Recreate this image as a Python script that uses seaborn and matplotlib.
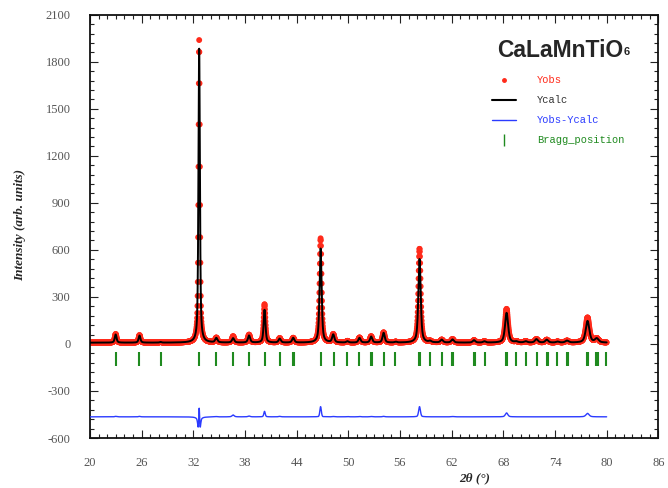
import numpy as np
import pandas as pd
import matplotlib
matplotlib.use("Agg")
import matplotlib.pyplot as plt
from matplotlib.lines import Line2D
from matplotlib.ticker import MultipleLocator
import seaborn as sns

# ---------------- data ----------------
two_theta_range = [20.0, 80.0]
step = 0.02
background = 8.0
diff_offset = -465.0

peak_pos = [22.98, 25.75, 28.20, 32.68, 34.67, 36.62, 38.47, 40.27, 42.03,
            43.60, 46.78, 48.25, 49.90, 51.30, 52.65, 54.10, 55.50, 58.27,
            59.50, 60.85, 62.10, 64.60, 65.80, 68.38, 69.50, 70.60, 71.85,
            73.05, 74.30, 75.40, 77.78, 78.85]
peak_calc = [52, 45, 4, 1875, 28, 28, 45, 210, 25,
             30, 600, 50, 8, 30, 38, 62, 5, 535,
             8, 18, 20, 15, 8, 190, 6, 8, 22,
             18, 6, 12, 138, 25]
peak_obs = [55, 48, 4, 1930, 30, 40, 50, 245, 28,
            30, 665, 52, 10, 32, 40, 65, 5, 600,
            8, 18, 22, 15, 8, 215, 6, 8, 22,
            18, 6, 12, 160, 25]
fwhm_calc = [0.25, 0.25, 0.25, 0.20, 0.30, 0.30, 0.30, 0.25, 0.30,
             0.30, 0.28, 0.30, 0.30, 0.30, 0.30, 0.30, 0.30, 0.32,
             0.35, 0.35, 0.35, 0.35, 0.35, 0.42, 0.40, 0.40, 0.40,
             0.40, 0.40, 0.45, 0.50, 0.50]
fwhm_obs = [0.25, 0.25, 0.25, 0.185, 0.30, 0.30, 0.30, 0.24, 0.30,
            0.30, 0.27, 0.30, 0.30, 0.30, 0.30, 0.30, 0.30, 0.31,
            0.35, 0.35, 0.35, 0.35, 0.35, 0.41, 0.40, 0.40, 0.40,
            0.40, 0.40, 0.45, 0.49, 0.50]

bragg_pos = [22.98, 25.73, 28.21, 32.69, 34.67, 36.64, 38.47, 40.29, 42.03,
             43.55, 43.68, 46.83, 48.30, 49.88, 51.28, 52.65, 52.78, 54.17,
             55.46, 58.20, 58.32, 59.52, 60.86, 62.02, 62.14, 64.60, 64.72,
             65.82, 68.26, 68.38, 69.48, 70.64, 71.88, 73.03, 73.15, 74.27,
             75.36, 75.48, 77.68, 77.80, 78.82, 78.94, 79.87]
bragg_top, bragg_bottom = -50, -140

y_ticks = [-600, -300, 0, 300, 600, 900, 1200, 1500, 1800, 2100]
x_ticks = [20, 26, 32, 38, 44, 50, 56, 62, 68, 74, 80, 86]


def profile(x, pos, height, fwhm, eta=0.6):
    y = np.full_like(x, background)
    for p, h, w in zip(pos, height, fwhm):
        d = (x - p) / (w / 2.0)
        lor = 1.0 / (1.0 + d ** 2)
        gau = np.exp(-np.log(2) * d ** 2)
        y += h * (eta * lor + (1 - eta) * gau)
    return y


x = np.arange(two_theta_range[0], two_theta_range[1] + step / 2, step)
ycalc = profile(x, peak_pos, peak_calc, fwhm_calc)
yobs = profile(x, peak_pos, peak_obs, fwhm_obs)
df = pd.DataFrame({"2theta": x, "Yobs": yobs, "Ycalc": ycalc,
                   "Diff": yobs - ycalc + diff_offset})

# ---------------- plotting ----------------
sns.set_theme(style="ticks")
plt.rcParams["font.family"] = ["DejaVu Sans"]
plt.rcParams["axes.unicode_minus"] = False

fig = plt.figure(figsize=(6.68, 4.88), dpi=100)
ax = fig.add_axes([90 / 668, 1 - 438 / 488, 568.3 / 668, 423.3 / 488])

red = "#ff2a1a"
blue = "#2b3bff"
green = "#1f8a1f"

sns.scatterplot(data=df, x="2theta", y="Yobs", ax=ax, color=red, s=18,
                linewidth=0, edgecolor="none", zorder=2, legend=False)
sns.lineplot(data=df, x="2theta", y="Ycalc", ax=ax, color="black", lw=1.4,
             zorder=3, legend=False)
sns.lineplot(data=df, x="2theta", y="Diff", ax=ax, color=blue, lw=1.0,
             zorder=3, legend=False)
ax.vlines(bragg_pos, bragg_bottom, bragg_top, colors=green, lw=1.5, zorder=3)

ax.set_xlim(20, 86)
ax.set_ylim(-600, 2100)
ax.set_xticks(x_ticks)
ax.set_yticks(y_ticks)
ax.xaxis.set_minor_locator(MultipleLocator(1))
ax.yaxis.set_minor_locator(MultipleLocator(60))
ax.tick_params(which="both", direction="in", top=True, right=True,
               color="#222222", width=0.8)
ax.tick_params(which="major", length=6, pad=14, labelsize=9,
               labelcolor="#555555")
ax.tick_params(which="minor", length=3)
for lab in ax.get_xticklabels() + ax.get_yticklabels():
    lab.set_fontfamily("Liberation Serif")
for s in ax.spines.values():
    s.set_linewidth(1.3)
    s.set_color("#111111")

ax.set_xlabel("")
ax.set_ylabel("")
fig.text(20 / 668, 1 - 225 / 488, "Intensity (arb. units)", rotation=90,
         ha="center", va="center", fontfamily="Liberation Serif",
         fontweight="bold", fontstyle="italic", fontsize=9.5)
fig.text(475 / 668, 1 - 478 / 488, "2θ (°)", ha="center", va="center",
         fontfamily="Liberation Serif", fontweight="bold",
         fontstyle="italic", fontsize=9.5)

title = ax.text(0.716, 0.901, "CaLaMnTiO", transform=ax.transAxes,
                ha="left", va="baseline", fontfamily="Liberation Sans",
                fontweight="bold", fontsize=16.5)
ax.annotate("6", xy=(1.0, 0.0), xycoords=title, xytext=(0.5, 3.0),
            textcoords="offset points", ha="left", va="bottom",
            fontfamily="Liberation Sans", fontweight="bold", fontsize=8)

handles = [
    Line2D([], [], ls="none", marker="o", color=red, markersize=2.5),
    Line2D([], [], color="black", lw=1.5),
    Line2D([], [], color=blue, lw=1.0),
    Line2D([], [], ls="none", marker="|", color=green, markersize=9,
           markeredgewidth=1.0),
]
labels = ["Yobs", "Ycalc", "Yobs-Ycalc", "Bragg_position"]
leg = ax.legend(handles, labels, loc="upper left",
                bbox_to_anchor=(0.7077, 0.8564), frameon=False,
                prop={"family": "Liberation Mono", "size": 7.5},
                handlelength=2.3, handletextpad=2.0, labelspacing=0.95,
                borderpad=0, borderaxespad=0, numpoints=1,
                labelcolor=[red, "#333333", blue, green])

fig.savefig("out.png", dpi=100)
